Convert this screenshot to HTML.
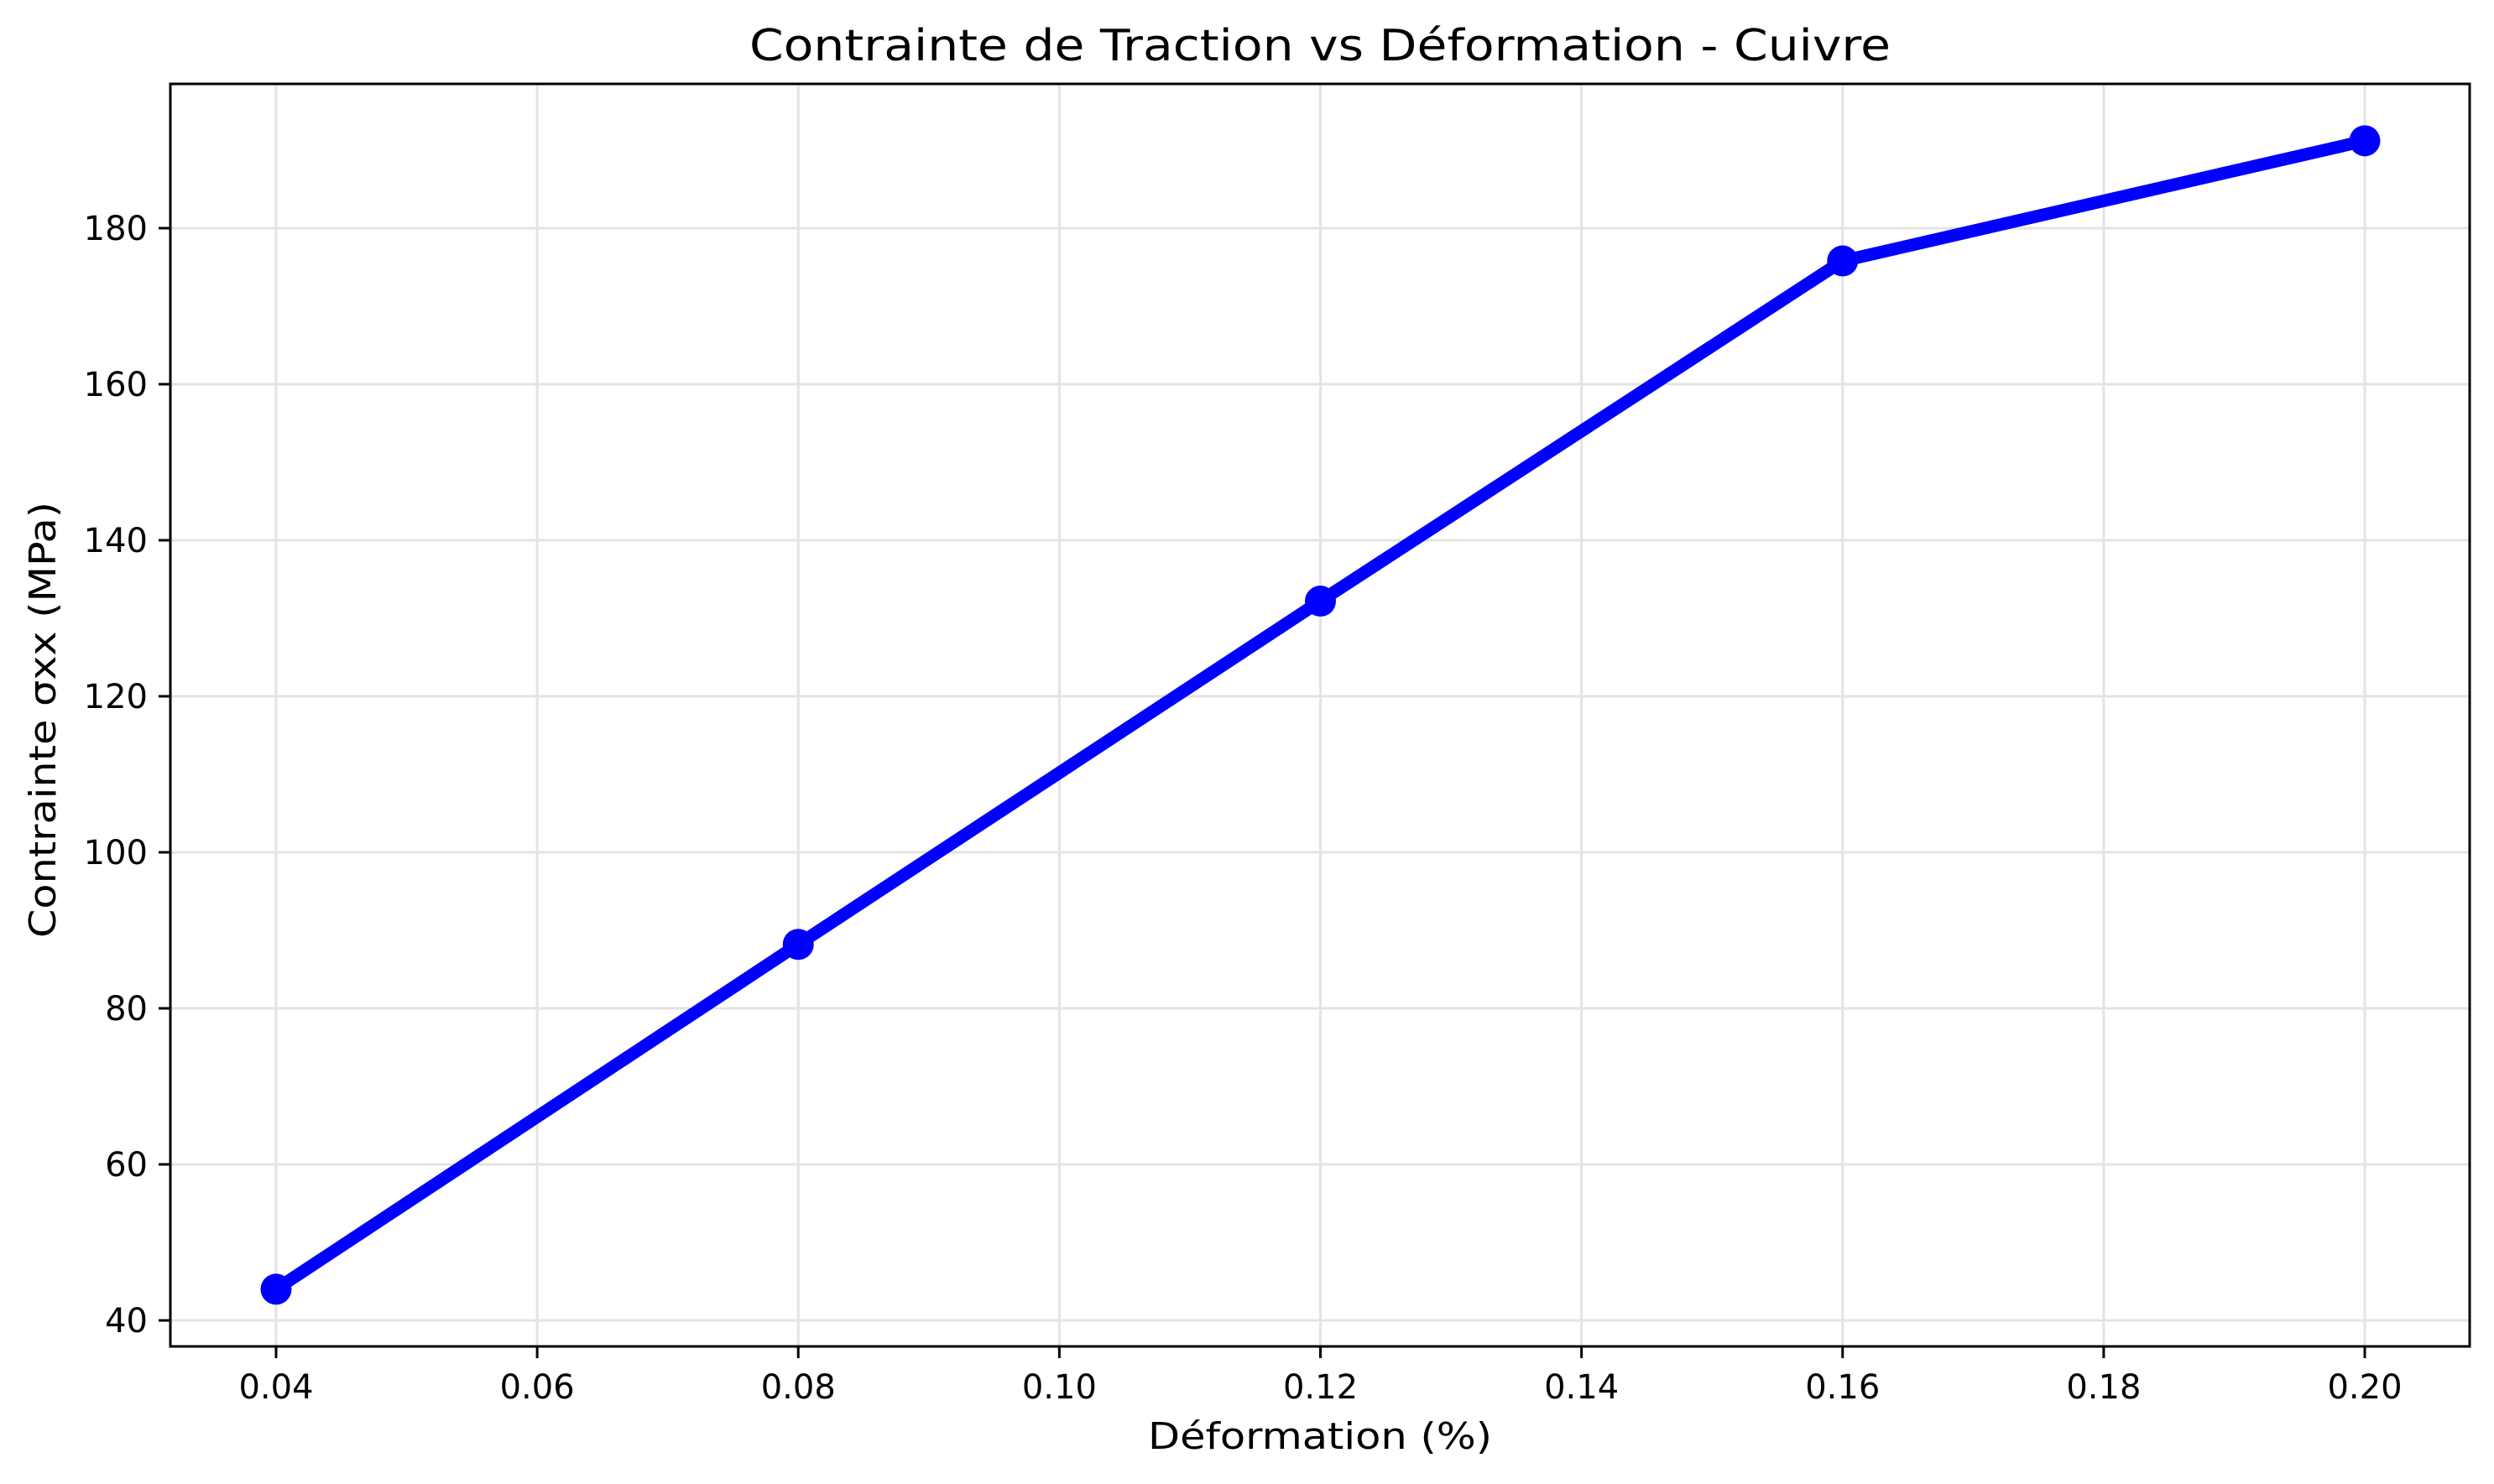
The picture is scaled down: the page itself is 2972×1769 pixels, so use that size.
<!DOCTYPE html>
<html><head><meta charset="utf-8"><style>
html,body{margin:0;padding:0;background:#fff;}
svg{display:block;font-family:"DejaVu Sans","Liberation Sans",sans-serif;}
</style></head><body>
<svg id="chart" width="2972" height="1769" viewBox="0 0 2972 1769" xmlns="http://www.w3.org/2000/svg">
<rect x="0" y="0" width="2972" height="1769" fill="#fff"/>
<g id="grid"></g>
<g id="series"></g>
<rect x="203" y="100" width="2740" height="1505" fill="none" stroke="#000" stroke-width="3"/>
<g id="xticks"></g>
<g id="yticks"></g>
<text x="1573" y="72" text-anchor="middle" font-size="52" textLength="1360" lengthAdjust="spacingAndGlyphs">Contrainte de Traction vs Déformation - Cuivre</text>
<text x="1573" y="1727" text-anchor="middle" font-size="44" textLength="410" lengthAdjust="spacingAndGlyphs">Déformation (%)</text>
<text transform="translate(66,858) rotate(-90)" text-anchor="middle" font-size="44" textLength="520" lengthAdjust="spacingAndGlyphs">Contrainte σxx (MPa)</text>
</svg>
<script>
const strain = [0.04, 0.08, 0.12, 0.16, 0.20];
const stress = [44.0, 88.2, 132.2, 175.8, 191.2];
const xTickValues = [0.04, 0.06, 0.08, 0.10, 0.12, 0.14, 0.16, 0.18, 0.20];
const xTickLabels = ["0.04","0.06","0.08","0.10","0.12","0.14","0.16","0.18","0.20"];
const yTickValues = [40, 60, 80, 100, 120, 140, 160, 180];
const yTickLabels = ["40","60","80","100","120","140","160","180"];

const NS = "http://www.w3.org/2000/svg";
function xs(v){ return 329 + (v - 0.04) / 0.04 * 622.25; }
function ys(v){ return 1574 - (v - 40) / 20 * 186; }
function mk(tag, attrs, parent){
  const e = document.createElementNS(NS, tag);
  for (const k in attrs) e.setAttribute(k, attrs[k]);
  parent.appendChild(e);
  return e;
}
const grid = document.getElementById('grid');
const xt = document.getElementById('xticks');
const yt = document.getElementById('yticks');
const ser = document.getElementById('series');

xTickValues.forEach((v, i) => {
  const x = xs(v);
  const g = mk('line', {x1:x, x2:x, y1:100, y2:1605, stroke:'#e3e3e3', 'stroke-width':3}, grid);
  
  
  const t = mk('line', {x1:x, x2:x, y1:1605, y2:1619, stroke:'#000', 'stroke-width':3}, xt);
  
  
  const l = mk('text', {x:x, y:1667, 'text-anchor':'middle', 'font-size':40}, xt);
  l.textContent = xTickLabels[i];
  
  
});
yTickValues.forEach((v, i) => {
  const y = ys(v);
  const g = mk('line', {x1:203, x2:2943, y1:y, y2:y, stroke:'#e3e3e3', 'stroke-width':3}, grid);
  
  
  const t = mk('line', {x1:189, x2:203, y1:y, y2:y, stroke:'#000', 'stroke-width':3}, yt);
  
  
  const l = mk('text', {x:176, y:y + 14, 'text-anchor':'end', 'font-size':40}, yt);
  l.textContent = yTickLabels[i];
  
  
});
const pts = strain.map((s, i) => xs(s) + ',' + ys(stress[i])).join(' ');
const line = mk('polyline', {points:pts, fill:'none', stroke:'#0000ff', 'stroke-width':15, 'stroke-linejoin':'round', 'stroke-linecap':'butt'}, ser);


strain.forEach((s, i) => {
  const c = mk('circle', {cx:xs(s), cy:ys(stress[i]), r:18.5, fill:'#0000ff'}, ser);
  
  
});
</script>
</body></html>
